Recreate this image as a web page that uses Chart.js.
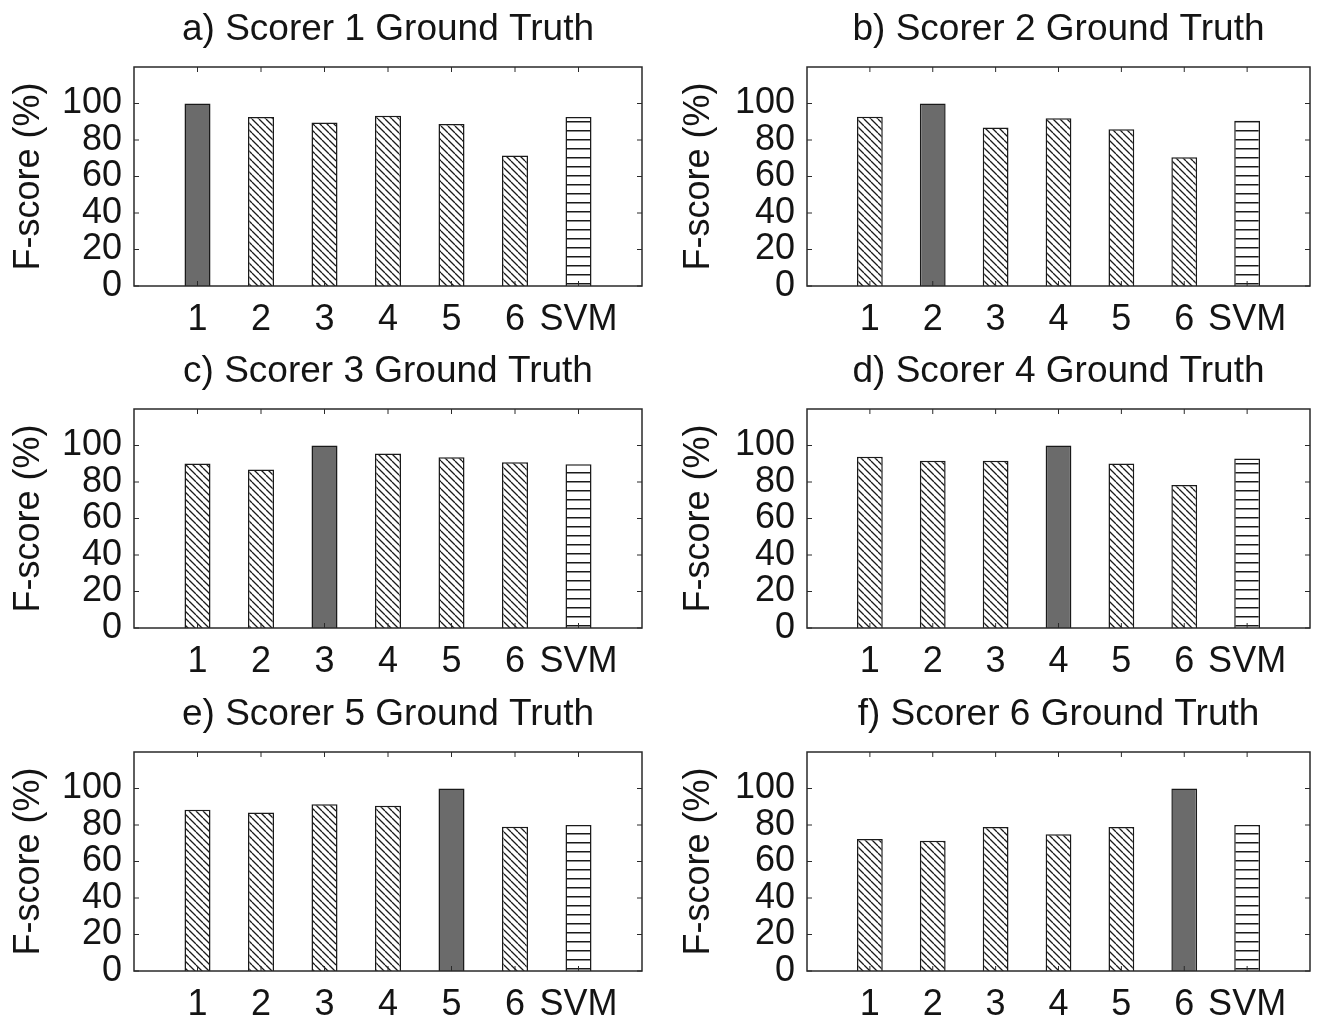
<!DOCTYPE html>
<html>
<head>
<meta charset="utf-8">
<title>F-score per scorer ground truth</title>
<script src="https://cdn.jsdelivr.net/npm/chart.js@4.4.1/dist/chart.umd.min.js"></script>
<style>
  html, body { margin: 0; padding: 0; background: #fff; }
  body { width: 1322px; height: 1023px; position: relative; overflow: hidden; }
  canvas { position: absolute; }
</style>
</head>
<body>
<script>
// categories on the x axis
const methods = ['1', '2', '3', '4', '5', '6', 'SVM'];

// panel titles
const titles = [
  'a) Scorer 1 Ground Truth', 'b) Scorer 2 Ground Truth',
  'c) Scorer 3 Ground Truth', 'd) Scorer 4 Ground Truth',
  'e) Scorer 5 Ground Truth', 'f) Scorer 6 Ground Truth'
];

// F-score (%) of each method against each scorer's ground truth
const scorer1 = [100, 92.6, 89.6, 93.3, 88.7, 71.5, 92.6];
const scorer2 = [92.7, 100, 86.8, 91.9, 85.9, 70.5, 90.5];
const scorer3 = [90.1, 86.8, 100, 95.6, 93.6, 90.8, 89.7];
const scorer4 = [93.8, 91.6, 91.6, 100, 90.1, 78.4, 92.9];
const scorer5 = [88.4, 86.8, 91.4, 90.5, 100, 79.1, 80.0];
const scorer6 = [72.3, 71.4, 78.9, 75.0, 78.9, 100, 80.0];
const allScores = [scorer1, scorer2, scorer3, scorer4, scorer5, scorer6];

// y axis
const yTickValues = [0, 20, 40, 60, 80, 100];
const yMax = 120;

const FONT = "'Liberation Sans', Arial, sans-serif";
const INK = '#141414';

// hatch patterns
function makeDiag() {
  const s = 7;
  const c = document.createElement('canvas');
  c.width = s; c.height = s;
  const g = c.getContext('2d');
  g.fillStyle = '#fff';
  g.fillRect(0, 0, s, s);
  g.strokeStyle = '#1a1a1a';
  g.lineWidth = 1.3;
  g.beginPath();
  for (let k = -1; k <= 1; k++) {
    g.moveTo(k * s, 0);
    g.lineTo(k * s + s, s);
  }
  g.stroke();
  return g.createPattern(c, 'repeat');
}
function makeHoriz() {
  const s = 9;
  const c = document.createElement('canvas');
  c.width = s; c.height = s;
  const g = c.getContext('2d');
  g.fillStyle = '#fff';
  g.fillRect(0, 0, s, s);
  g.fillStyle = '#1a1a1a';
  g.fillRect(0, 4, s, 1.5);
  return g.createPattern(c, 'repeat');
}
const diagFill = makeDiag();
const horizFill = makeHoriz();
const solidFill = '#6b6b6b';

// box around the axes + inward tick marks (matlab style)
const framePlugin = {
  id: 'frame',
  afterDatasetsDraw(chart) {
    const { ctx, chartArea: a, scales: { x, y } } = chart;
    ctx.save();
    ctx.strokeStyle = '#2a2a2a';
    ctx.lineWidth = 1.5;
    ctx.strokeRect(a.left, a.top, a.right - a.left, a.bottom - a.top);
    ctx.lineWidth = 1;
    ctx.beginPath();
    for (let i = 1; i <= methods.length; i++) {
      const px = x.getPixelForValue(i);
      ctx.moveTo(px, a.bottom); ctx.lineTo(px, a.bottom - 5);
      ctx.moveTo(px, a.top); ctx.lineTo(px, a.top + 5);
    }
    yTickValues.forEach(v => {
      const py = y.getPixelForValue(v);
      ctx.moveTo(a.left, py); ctx.lineTo(a.left + 5, py);
      ctx.moveTo(a.right, py); ctx.lineTo(a.right - 5, py);
    });
    ctx.stroke();
    ctx.restore();
  }
};

// panel geometry: column x, row top, canvas height
const colX = [0, 661];
const rowTop = [0, 342, 685];
const rowH = [342, 343, 338];

allScores.forEach((scores, p) => {
  const col = p % 2;
  const row = Math.floor(p / 2);
  const canvas = document.createElement('canvas');
  canvas.width = 661;
  canvas.height = rowH[row];
  canvas.style.left = colX[col] + 'px';
  canvas.style.top = rowTop[row] + 'px';
  document.body.appendChild(canvas);

  const padLeft = col === 0 ? 0 : 9;
  const yWidth = col === 0 ? 134 : 137;
  const padRight = col === 0 ? 19 : 8;
  const xHeight = rowH[row] - 286;

  const labels = ['', ...methods, ''];
  const data = [null, ...scores, null];
  const fills = labels.map((m, i) => {
    if (m === 'SVM') return horizFill;
    if (i === p + 1) return solidFill;
    return diagFill;
  });

  new Chart(canvas, {
    type: 'bar',
    data: {
      labels,
      datasets: [{
        data,
        backgroundColor: fills,
        borderColor: '#1a1a1a',
        borderWidth: 1.5,
        barPercentage: 0.41,
        categoryPercentage: 1
      }]
    },
    options: {
      responsive: false,
      animation: false,
      layout: { padding: { left: padLeft, right: padRight, top: 0, bottom: 0 } },
      plugins: {
        legend: { display: false },
        tooltip: { enabled: false },
        title: {
          display: true,
          text: titles[p],
          fullSize: false,
          color: INK,
          font: { family: FONT, size: 37, weight: 'normal' },
          padding: { top: 8, bottom: 14.6 }
        }
      },
      scales: {
        x: {
          offset: false,
          grid: { display: false, drawTicks: false },
          border: { display: false },
          ticks: {
            color: INK,
            padding: 12,
            maxRotation: 0,
            autoSkip: false,
            font: { family: FONT, size: 36 }
          },
          afterFit: (s) => { s.height = xHeight; }
        },
        y: {
          min: 0,
          max: yMax,
          grid: { display: false, drawTicks: false },
          border: { display: false },
          ticks: {
            stepSize: 20,
            autoSkip: false,
            color: INK,
            padding: 12,
            font: { family: FONT, size: 36 },
            callback: (v) => yTickValues.includes(v) ? String(v) : ''
          },
          title: {
            display: true,
            text: 'F-score (%)',
            color: INK,
            font: { family: FONT, size: 36 },
            padding: { top: 7, bottom: 0 }
          },
          afterFit: (s) => { s.width = yWidth; }
        }
      }
    },
    plugins: [framePlugin]
  });
});
</script>
</body>
</html>
